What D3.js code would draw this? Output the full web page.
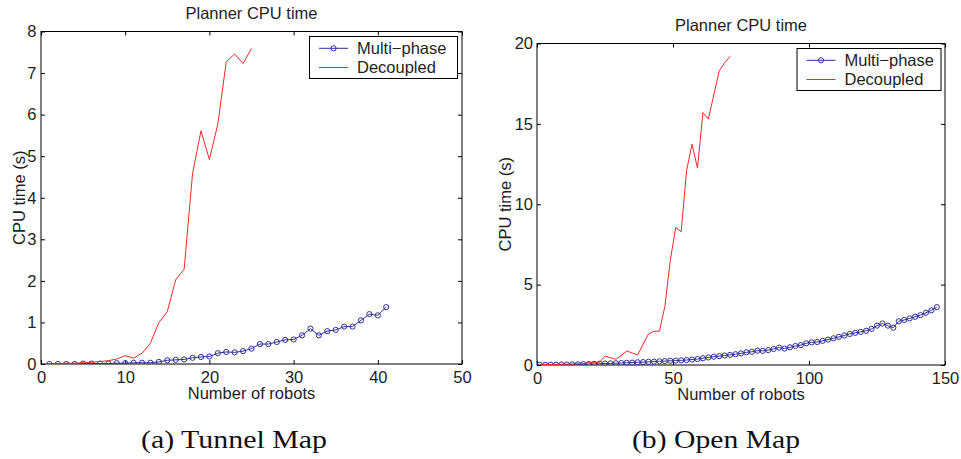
<!DOCTYPE html>
<html><head><meta charset="utf-8">
<script src="https://cdn.jsdelivr.net/npm/d3@7"></script>
<style>body{margin:0;background:#fff}</style>
</head><body>
<svg id="c" width="961" height="459"></svg>
<script>
// ---------- DATA ----------
const tunnelRobots = [1,2,3,4,5,6,7,8,9,10,11,12,13,14,15,16,17,18,19,20,21,22,23,24,25,26,27,28,29,30,31,32,33,34,35,36,37,38,39,40,41];
const tunnelMultiPhase = [0.00,0.00,0.00,0.00,0.01,0.01,0.01,0.01,0.02,0.02,0.03,0.03,0.03,0.05,0.09,0.10,0.11,0.15,0.17,0.18,0.26,0.29,0.28,0.31,0.37,0.48,0.48,0.53,0.58,0.59,0.69,0.85,0.69,0.79,0.82,0.90,0.90,1.05,1.20,1.17,1.37];
const tunnelDecoupledRobots = [1,2,3,4,5,6,7,8,9,10,11,12,13,14,15,16,17,18,19,20,21,22,23,24,25];
const tunnelDecoupled = [0.01,0.01,0.02,0.02,0.03,0.04,0.06,0.08,0.12,0.20,0.14,0.26,0.50,1.00,1.26,2.03,2.28,4.58,5.61,4.92,5.77,7.27,7.46,7.23,7.59];

const openRobots = [1,3,5,7,9,11,13,15,17,19,21,23,25,27,29,31,33,35,37,39,41,43,45,47,49,51,53,55,57,59,61,63,65,67,69,71,73,75,77,79,81,83,85,87,89,91,93,95,97,99,101,103,105,107,109,111,113,115,117,119,121,123,125,127,129,131,133,135,137,139,141,143,145,147];
const openMultiPhase = [0.01,0.01,0.02,0.02,0.03,0.03,0.04,0.04,0.05,0.06,0.07,0.08,0.09,0.10,0.11,0.12,0.14,0.15,0.17,0.18,0.20,0.21,0.23,0.24,0.26,0.27,0.29,0.31,0.34,0.37,0.42,0.47,0.52,0.55,0.59,0.63,0.67,0.72,0.79,0.82,0.89,0.88,0.93,1.00,1.08,1.02,1.10,1.18,1.24,1.35,1.41,1.43,1.50,1.58,1.66,1.75,1.84,1.93,2.00,2.06,2.13,2.25,2.45,2.58,2.45,2.32,2.72,2.80,2.90,3.00,3.10,3.25,3.40,3.60];
const openDecoupledRobots = [1,3,5,7,9,11,13,15,17,19,21,23,25,27,29,31,33,35,37,39,41,43,45,47,49,51,53,55,57,59,61,63,65,67,69,71];
const openDecoupled = [0.02,0.03,0.03,0.04,0.04,0.05,0.06,0.07,0.08,0.17,0.17,0.17,0.56,0.45,0.35,0.60,0.87,0.75,0.62,1.30,1.93,2.10,2.10,3.63,6.50,8.56,8.29,12.10,13.74,12.25,15.70,15.30,16.80,18.30,18.80,19.20];

const tunnelXTicks = [0,10,20,30,40,50];
const tunnelYTicks = [0,1,2,3,4,5,6,7,8];
const openXTicks = [0,50,100,150];
const openYTicks = [0,5,10,15,20];

const seriesNames = ["Multi\u2212phase", "Decoupled"];
const chartTitle = "Planner CPU time";
const xLabel = "Number of robots";
const yLabel = "CPU time (s)";
const captions = ["(a) Tunnel Map", "(b) Open Map"];

// ---------- DRAW ----------
const svg = d3.select("#c");
const FONT = "'Liberation Sans', Arial, Helvetica, sans-serif";
const FS = 16.5;
const TXT = "#1e1e1e";
const BLUE = "#2e2e9c";
const RED = "#f02828";

function panel(cfg) {
  const x = d3.scaleLinear().domain(cfg.xDomain).range([cfg.left, cfg.right]);
  const y = d3.scaleLinear().domain(cfg.yDomain).range([cfg.bottom, cfg.top]);
  const g = svg.append("g");

  const cid = "clip" + cfg.id;
  g.append("clipPath").attr("id", cid).append("rect")
    .attr("x", cfg.left).attr("y", cfg.top)
    .attr("width", cfg.right - cfg.left).attr("height", cfg.bottom - cfg.top);

  const axStyle = sel => {
    sel.select(".domain").remove();
    sel.selectAll("line").attr("stroke", "#000");
    sel.selectAll("text").attr("font-family", FONT).attr("font-size", FS).attr("fill", TXT);
  };
  g.append("g").attr("transform", `translate(0,${cfg.bottom})`)
    .call(d3.axisBottom(x).tickValues(cfg.xTicks).tickSizeInner(-4).tickSizeOuter(0).tickPadding(7))
    .call(axStyle);
  g.append("g").attr("transform", `translate(0,${cfg.top})`)
    .call(d3.axisTop(x).tickValues(cfg.xTicks).tickSizeInner(-4).tickSizeOuter(0).tickFormat(""))
    .call(axStyle);
  g.append("g").attr("transform", `translate(${cfg.left},0)`)
    .call(d3.axisLeft(y).tickValues(cfg.yTicks).tickSizeInner(-4).tickSizeOuter(0).tickPadding(cfg.yPad))
    .call(axStyle);
  g.append("g").attr("transform", `translate(${cfg.right},0)`)
    .call(d3.axisRight(y).tickValues(cfg.yTicks).tickSizeInner(-4).tickSizeOuter(0).tickFormat(""))
    .call(axStyle);

  g.append("rect").attr("x", cfg.left).attr("y", cfg.top)
    .attr("width", cfg.right - cfg.left).attr("height", cfg.bottom - cfg.top)
    .attr("fill", "none").attr("stroke", "#000").attr("stroke-width", 1);

  const line = d3.line().x(d => x(d[0])).y(d => y(d[1]));
  const mp = cfg.mpX.map((v, i) => [v, cfg.mpY[i]]);
  const dc = cfg.dcX.map((v, i) => [v, cfg.dcY[i]]);

  const plot = g.append("g").attr("clip-path", `url(#${cid})`);
  plot.append("path").datum(mp).attr("d", line).attr("fill", "none")
    .attr("stroke", BLUE).attr("stroke-width", 1);
  plot.selectAll("circle.mp").data(mp).join("circle").attr("class", "mp")
    .attr("cx", d => x(d[0])).attr("cy", d => y(d[1])).attr("r", 2.6)
    .attr("fill", "none").attr("stroke", BLUE).attr("stroke-width", 1);
  plot.append("path").datum(dc).attr("d", line).attr("fill", "none")
    .attr("stroke", RED).attr("stroke-width", 1);

  g.append("text").attr("x", (cfg.left + cfg.right) / 2).attr("y", cfg.top - 12.5)
    .attr("text-anchor", "middle").attr("font-family", FONT).attr("font-size", FS)
    .attr("fill", TXT).text(chartTitle);
  g.append("text").attr("x", (cfg.left + cfg.right) / 2).attr("y", cfg.bottom + 35)
    .attr("text-anchor", "middle").attr("font-family", FONT).attr("font-size", FS)
    .attr("fill", TXT).text(xLabel);
  g.append("text")
    .attr("transform", `translate(${cfg.yLabelX},${(cfg.top + cfg.bottom) / 2}) rotate(-90)`)
    .attr("text-anchor", "middle").attr("font-family", FONT).attr("font-size", FS)
    .attr("fill", TXT).text(yLabel);

  const lg = g.append("g").attr("transform", `translate(${cfg.legX},${cfg.top + 5})`);
  lg.append("rect").attr("x", 0).attr("y", 0).attr("width", cfg.legW).attr("height", 42)
    .attr("fill", "#fff").attr("stroke", "#000").attr("stroke-width", 1);
  const rows = [11.8, 31];
  lg.append("line").attr("x1", 9.5).attr("x2", 38.5).attr("y1", rows[0]).attr("y2", rows[0])
    .attr("stroke", BLUE).attr("stroke-width", 1);
  lg.append("circle").attr("cx", 24).attr("cy", rows[0]).attr("r", 2.6)
    .attr("fill", "none").attr("stroke", BLUE);
  lg.append("line").attr("x1", 9.5).attr("x2", 38.5).attr("y1", rows[1]).attr("y2", rows[1])
    .attr("stroke", RED).attr("stroke-width", 1);
  seriesNames.forEach((s, i) => {
    lg.append("text").attr("x", 47.5).attr("y", rows[i]).attr("dy", "0.36em")
      .attr("font-family", FONT).attr("font-size", FS).attr("fill", TXT).text(s);
  });

  svg.append("text").attr("x", cfg.capX).attr("y", 448)
    .attr("font-family", "'Liberation Serif', 'Times New Roman', serif").attr("font-size", 25)
    .attr("fill", "#111").attr("textLength", cfg.capW).attr("lengthAdjust", "spacingAndGlyphs")
    .text(cfg.caption);
}

panel({
  id: "a", left: 41, right: 462, top: 31.5, bottom: 364,
  xDomain: [0, 50], yDomain: [0, 8], xTicks: tunnelXTicks, yTicks: tunnelYTicks,
  mpX: tunnelRobots, mpY: tunnelMultiPhase, dcX: tunnelDecoupledRobots, dcY: tunnelDecoupled,
  yPad: 4.5, yLabelX: 25, legX: 309.5, legW: 148, caption: captions[0], capX: 141, capW: 186
});
panel({
  id: "b", left: 537, right: 945, top: 43.5, bottom: 365,
  xDomain: [0, 150], yDomain: [0, 20], xTicks: openXTicks, yTicks: openYTicks,
  mpX: openRobots, mpY: openMultiPhase, dcX: openDecoupledRobots, dcY: openDecoupled,
  yPad: 4, yLabelX: 511, legX: 797, legW: 144, caption: captions[1], capX: 632, capW: 168
});
</script>
</body></html>
